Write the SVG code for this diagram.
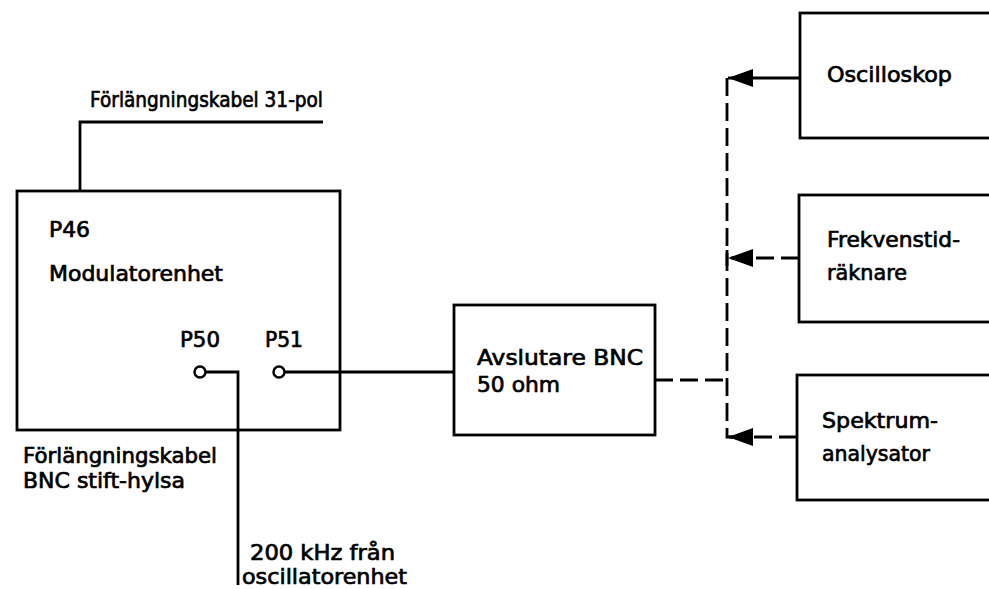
<svg xmlns="http://www.w3.org/2000/svg" width="989" height="589" viewBox="0 0 989 589">
<style>
  .box { fill: #fff; stroke: #000; stroke-width: 2.8; }
  .wire { fill: none; stroke: #000; stroke-width: 2.8; }
  .dash { fill: none; stroke: #000; stroke-width: 2.8; stroke-dasharray: 18 7; }
  .port { fill: #fff; stroke: #000; stroke-width: 2.5; }
  text { font-family: "DejaVu Sans", "Noto Sans", sans-serif; font-size: 21px; fill: #000; stroke: #000; stroke-width: 0.7; }
</style>
<defs>
  <marker id="arr" markerUnits="userSpaceOnUse" markerWidth="26" markerHeight="20" refX="25" refY="9" orient="auto">
    <path d="M0,0 L25,9 L0,18 Z" fill="#000"/>
  </marker>
</defs>
<rect width="989" height="589" fill="#fff"/>

<g id="modulatorenhet">
  <rect class="box" x="17" y="191" width="323" height="239"/>
  <text x="49" y="237" textLength="41" lengthAdjust="spacingAndGlyphs">P46</text>
  <text x="49" y="281" textLength="174" lengthAdjust="spacingAndGlyphs">Modulatorenhet</text>
  <text x="180" y="347" textLength="40" lengthAdjust="spacingAndGlyphs">P50</text>
  <text x="265" y="347" textLength="38" lengthAdjust="spacingAndGlyphs">P51</text>
  <circle id="p50" class="port" cx="200" cy="372" r="5.5"/>
  <circle id="p51" class="port" cx="279" cy="372" r="5.5"/>
</g>

<g id="avslutare">
  <rect class="box" x="454" y="305" width="201" height="130"/>
  <text x="477" y="365" textLength="166" lengthAdjust="spacingAndGlyphs">Avslutare BNC</text>
  <text x="477" y="392" textLength="83" lengthAdjust="spacingAndGlyphs">50 ohm</text>
</g>

<g id="oscilloskop">
  <rect class="box" x="800" y="13" width="200" height="125"/>
  <text x="827" y="82" textLength="125" lengthAdjust="spacingAndGlyphs">Oscilloskop</text>
</g>

<g id="frekvenstidraknare">
  <rect class="box" x="799" y="195" width="200" height="127"/>
  <text x="827" y="247" textLength="133" lengthAdjust="spacingAndGlyphs">Frekvenstid-</text>
  <text x="827" y="280" textLength="80" lengthAdjust="spacingAndGlyphs">räknare</text>
</g>

<g id="spektrumanalysator">
  <rect class="box" x="797" y="375" width="200" height="125"/>
  <text x="822" y="428" textLength="116" lengthAdjust="spacingAndGlyphs">Spektrum-</text>
  <text x="822" y="461" textLength="108" lengthAdjust="spacingAndGlyphs">analysator</text>
</g>

<g id="labels">
  <text x="90" y="107" textLength="233" lengthAdjust="spacingAndGlyphs">Förlängningskabel 31-pol</text>
  <text x="23" y="463" textLength="194" lengthAdjust="spacingAndGlyphs">Förlängningskabel</text>
  <text x="23" y="488" textLength="162" lengthAdjust="spacingAndGlyphs">BNC stift-hylsa</text>
  <text x="250" y="560" textLength="145" lengthAdjust="spacingAndGlyphs">200 kHz från</text>
  <text x="242" y="584" textLength="165" lengthAdjust="spacingAndGlyphs">oscillatorenhet</text>
</g>

<g id="connectors">
  <path class="wire" d="M80 191 V122 H323"/>
  <path class="wire" d="M205.5 372 H238 V585"/>
  <path class="wire" d="M284.5 372 H454"/>
  <path class="dash" d="M655 380 H727"/>
  <path class="dash" d="M727 78 V437 H740"/>
  <path class="wire" d="M800 78 H728" marker-end="url(#arr)"/>
  <path class="dash" d="M799 258 H728" marker-end="url(#arr)"/>
  <path class="wire" d="M727 250 V266"/>
  <path class="dash" d="M797 437 H728" marker-end="url(#arr)"/>
</g>
</svg>
